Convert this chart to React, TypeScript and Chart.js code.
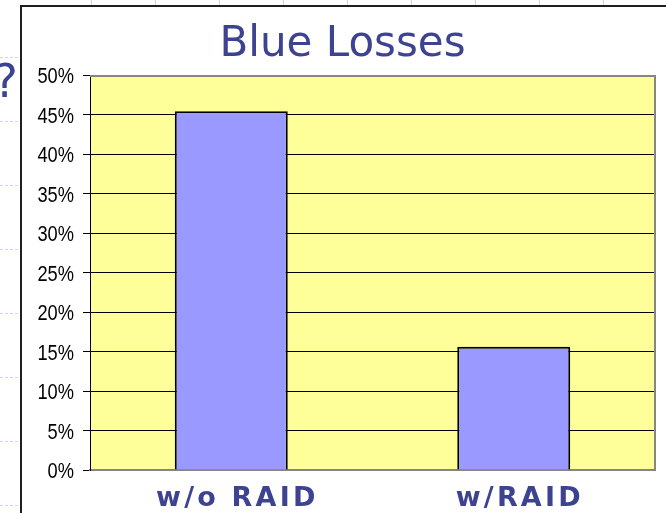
import React, { useEffect, useRef } from "react";
import { Chart, registerables } from "chart.js";

Chart.register(...registerables);

const chartTitle = "Blue Losses";
const categories = ["w/o RAID", "w/RAID"];
const lossValues = [45.4, 15.6];
const yMin = 0;
const yMax = 50;
const yStep = 5;

const TEXT_BLUE = "#3d4391";

const slidePlugin = {
  id: "slideDecor",
  beforeDraw(chart: any) {
    const { ctx, width, height, chartArea } = chart;
    ctx.save();
    ctx.fillStyle = "#ffffff";
    ctx.fillRect(0, 0, width, height);
    // faint slide background guides
    ctx.strokeStyle = "#c9d5f2";
    ctx.lineWidth = 1;
    ctx.setLineDash([3, 2]);
    for (let y = 57; y < height; y += 64) {
      ctx.beginPath();
      ctx.moveTo(0, y + 0.5);
      ctx.lineTo(20, y + 0.5);
      ctx.stroke();
    }
    ctx.setLineDash([]);
    for (let x = 91; x < width; x += 64) {
      ctx.beginPath();
      ctx.moveTo(x + 0.5, 0);
      ctx.lineTo(x + 0.5, 5);
      ctx.stroke();
    }
    // clipped slide text
    ctx.fillStyle = TEXT_BLUE;
    ctx.font = "46px 'DejaVu Sans'";
    ctx.textAlign = "right";
    ctx.textBaseline = "alphabetic";
    ctx.fillText("?", 18, 97);
    // chart frame
    ctx.strokeStyle = "#1e1e1e";
    ctx.lineWidth = 2;
    ctx.beginPath();
    ctx.moveTo(21, height + 2);
    ctx.lineTo(21, 6);
    ctx.lineTo(width + 2, 6);
    ctx.stroke();
    // plot area fill
    ctx.fillStyle = "#FFFF99";
    ctx.fillRect(
      chartArea.left,
      chartArea.top,
      chartArea.right - chartArea.left,
      chartArea.bottom - chartArea.top
    );
    ctx.restore();
  },
  afterDraw(chart: any) {
    const { ctx, chartArea } = chart;
    ctx.save();
    ctx.strokeStyle = "#858585";
    ctx.lineWidth = 2;
    ctx.beginPath();
    ctx.moveTo(chartArea.left, chartArea.top + 1);
    ctx.lineTo(chartArea.right, chartArea.top + 1);
    ctx.lineTo(chartArea.right, chartArea.bottom + 1);
    ctx.stroke();
    // title
    ctx.fillStyle = TEXT_BLUE;
    ctx.font = "42px 'DejaVu Sans'";
    ctx.textAlign = "center";
    ctx.textBaseline = "alphabetic";
    ctx.fillText(chartTitle, 342.5, 56);
    ctx.restore();
  },
};

export default function App() {
  const canvasRef = useRef<HTMLCanvasElement | null>(null);

  useEffect(() => {
    if (!canvasRef.current) return;
    const chart = new Chart(canvasRef.current, {
      type: "bar",
      data: {
        labels: categories,
        datasets: [
          {
            data: lossValues,
            backgroundColor: "#9999FF",
            borderColor: "#000000",
            borderWidth: 2,
            barPercentage: 0.4,
            categoryPercentage: 1.0,
          },
        ],
      },
      options: {
        responsive: false,
        animation: false,
        layout: { padding: { top: 75, right: 11, left: 0, bottom: 0 } },
        plugins: {
          legend: { display: false },
          title: { display: false },
          tooltip: { enabled: false },
        },
        scales: {
          x: {
            grid: { display: false, drawTicks: false, tickLength: 0 },
            border: { display: true, color: "#858585", width: 2 },
            ticks: {
              color: TEXT_BLUE,
              font: { family: "'DejaVu Sans'", size: 27, weight: "bold" },
              padding: 13,
              labelOffset: 6,
              maxRotation: 0,
            },
            afterFit(scale: any) {
              scale.height = 43;
              if (!scale.__ls) {
                const orig = scale.drawLabels.bind(scale);
                scale.drawLabels = (ca: any) => {
                  const c = scale.ctx;
                  c.save();
                  (c as any).letterSpacing = "3.2px";
                  orig(ca);
                  c.restore();
                };
                scale.__ls = true;
              }
            },
          },
          y: {
            min: yMin,
            max: yMax,
            ticks: {
              stepSize: yStep,
              color: "#000000",
              font: {
                family: "'Liberation Sans', Arial",
                size: 22,
              },
              padding: 9,
              labelOffset: 2,
              callback: (v: any) => `${v}%`,
            },
            grid: { color: "#000000", lineWidth: 1, tickLength: 7, drawTicks: true },
            border: { display: true, color: "#000000", width: 1 },
            afterFit(scale: any) {
              scale.width = 90;
              if (!scale.__nar) {
                const orig = scale.drawLabels.bind(scale);
                scale.drawLabels = (ca: any) => {
                  const c = scale.ctx;
                  const ax = 74;
                  c.save();
                  c.translate(ax, 0);
                  c.scale(0.83, 1);
                  c.translate(-ax, 0);
                  orig(ca);
                  c.restore();
                };
                scale.__nar = true;
              }
            },
          },
        },
      },
      plugins: [slidePlugin],
    });
    return () => chart.destroy();
  }, []);

  return (
    <div style={{ position: "fixed", left: 0, top: 0, width: 666, height: 513 }}>
      <canvas ref={canvasRef} width={666} height={513} style={{ display: "block" }} />
    </div>
  );
}
